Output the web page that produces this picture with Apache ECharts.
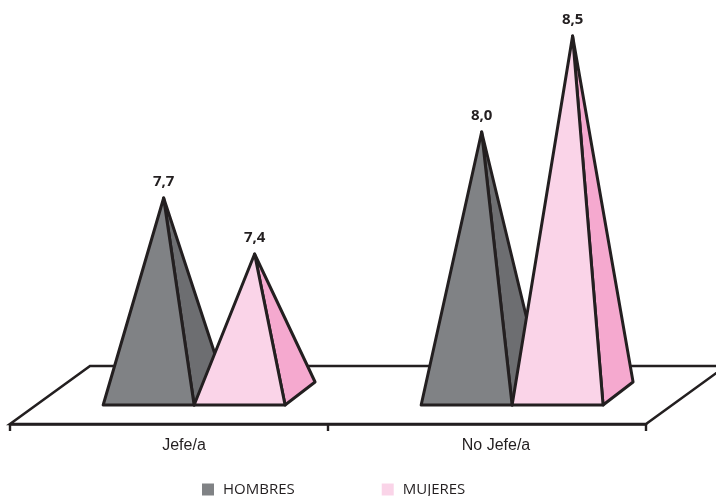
<!DOCTYPE html>
<html><head><meta charset="utf-8">
<style>html,body{margin:0;padding:0;background:#fff}#c{width:716px;height:496px}</style>
<script src="https://cdn.jsdelivr.net/npm/echarts@6/dist/echarts.min.js"></script>
</head><body><div id="c"></div>
<script>
const categories = ['Jefe/a', 'No Jefe/a'];
const hombres = [7.68, 8.01];
const mujeres = [7.40, 8.49];
const INK = '#231f20';

const chart = echarts.init(document.getElementById('c'), null, {renderer: 'canvas'});

function pyramid(slot, front, side) {
  return function (params, api) {
    const band = api.size([1, 0])[0];
    const centre = api.coord([api.value(0), api.value(1)]);
    const axisY = params.coordSys.y + params.coordSys.height;
    const w = band * 0.286;
    const left = centre[0] - band * 0.207 + slot * w;
    const right = left + w;
    const baseY = axisY - 19, dx = 30, dy = 23;
    const apex = [left + w / 2 + dx / 2, centre[1]];
    const line = {stroke: INK, lineWidth: 3, lineJoin: 'round'};
    return {type: 'group', children: [
      {type: 'polygon', shape: {points: [[right, baseY], [right + dx, baseY - dy], apex]},
       style: Object.assign({fill: side}, line)},
      {type: 'polygon', shape: {points: [[left, baseY], [right, baseY], apex]},
       style: Object.assign({fill: front}, line)},
      {type: 'text', x: apex[0], y: apex[1] - 16,
       style: {text: api.value(1).toFixed(1).replace('.', ','), fill: INK,
               font: 'bold 15px "Open Sans"', align: 'center', verticalAlign: 'middle'}}
    ]};
  };
}

function floor(params) {
  const c = params.coordSys;
  const x0 = c.x, x1 = c.x + c.width, y = c.y + c.height;
  const dx = 80, dy = 58;
  return {type: 'polygon',
    shape: {points: [[x0, y], [x0 + dx, y - dy], [x1 + dx, y - dy], [x1, y]]},
    style: {fill: '#fff', stroke: INK, lineWidth: 2.6}};
}

chart.setOption({
  animation: false,
  backgroundColor: '#fff',
  grid: {left: 10, width: 636, top: 4, height: 420},
  xAxis: {type: 'category', data: categories, boundaryGap: true,
    axisLine: {show: true, lineStyle: {color: INK, width: 2.6}},
    axisTick: {show: true, alignWithLabel: false, length: 7, lineStyle: {color: INK, width: 2.4}},
    axisLabel: {color: INK, fontFamily: 'Liberation Sans', fontSize: 16, margin: 14,
      formatter: (v, i) => '{l' + i + '|' + v + '}',
      rich: {l0: {padding: [0, 0, 0, 30]}, l1: {padding: [0, 0, 0, 18]}}},
    z: 3},
  yAxis: {type: 'value', min: 6.55, max: 8.65, show: false},
  legend: {left: 202, top: 482, itemWidth: 12, itemHeight: 12, itemGap: 87, padding: 0,
    icon: 'rect', selectedMode: false,
    textStyle: {color: INK, fontFamily: 'Open Sans', fontSize: 15, padding: [0, 0, 0, 4]},
    data: ['HOMBRES', 'MUJERES']},
  series: [
    {name: 'floor', type: 'custom', data: [[0, 0]], renderItem: floor, silent: true, z: 1},
    {name: 'HOMBRES', type: 'custom', z: 2, itemStyle: {color: '#808285'},
     data: hombres.map((v, i) => [i, v]), encode: {x: 0, y: 1},
     renderItem: pyramid(0, '#808285', '#6d6e71')},
    {name: 'MUJERES', type: 'custom', z: 2, itemStyle: {color: '#fad4e8'},
     data: mujeres.map((v, i) => [i, v]), encode: {x: 0, y: 1},
     renderItem: pyramid(1, '#fad4e8', '#f5a9cf')}
  ]
});
</script></body></html>
